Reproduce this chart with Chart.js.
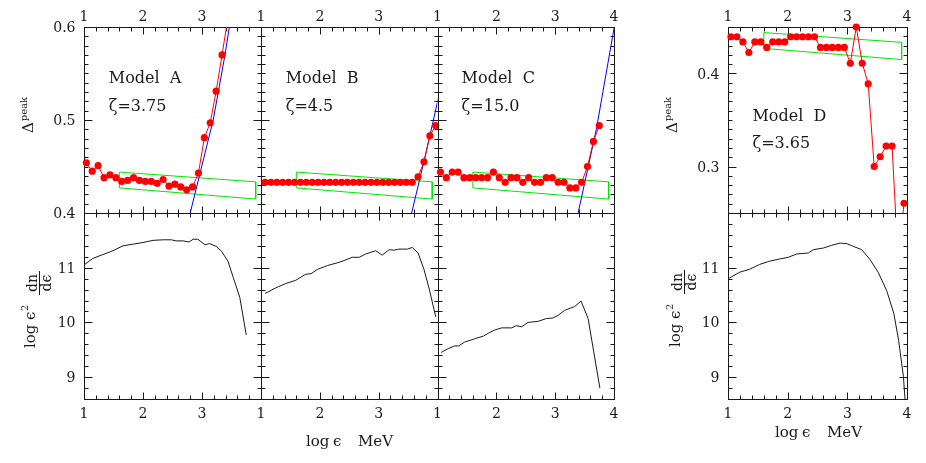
<!DOCTYPE html>
<html>
<head>
<meta charset="utf-8">
<title>Delta peak and spectra, Models A-D</title>
<script src="https://cdn.jsdelivr.net/npm/chart.js@4.4.1/dist/chart.umd.min.js"></script>
<style>
  html, body { margin: 0; padding: 0; background: #fff; }
  #wrap { position: relative; width: 926px; height: 463px; overflow: hidden; }
  #wrap canvas { position: absolute; left: 0; top: 0; pointer-events: none; }
</style>
</head>
<body>
<div id="wrap">
  <canvas id="topA" width="926" height="463"></canvas>
  <canvas id="topB" width="926" height="463"></canvas>
  <canvas id="topC" width="926" height="463"></canvas>
  <canvas id="topD" width="926" height="463"></canvas>
  <canvas id="botA" width="926" height="463"></canvas>
  <canvas id="botB" width="926" height="463"></canvas>
  <canvas id="botC" width="926" height="463"></canvas>
  <canvas id="botD" width="926" height="463"></canvas>
</div>
<script>
// ── Data ─────────────────────────────────────────────────────────────────────
// Model A, Delta^peak vs log eps
const logE_A = [1.04,1.14,1.24,1.34,1.44,1.54,1.64,1.74,1.84,1.94,2.04,2.14,2.24,2.34,2.44,2.54,2.64,2.74,2.84,2.94,3.04,3.14,3.24,3.34,3.44];
const peak_A = [0.454,0.445,0.451,0.438,0.441,0.438,0.434,0.435,0.438,0.435,0.434,0.434,0.432,0.436,0.429,0.431,0.428,0.425,0.428,0.443,0.481,0.497,0.531,0.570,0.610];
const fitX_A = [2.80,2.96,3.19,3.39,3.48];
const fitY_A = [0.400,0.441,0.500,0.570,0.607];

// Model B
const logE_B = [1.07,1.17,1.27,1.37,1.47,1.57,1.67,1.77,1.87,1.97,2.07,2.17,2.27,2.37,2.47,2.57,2.67,2.77,2.87,2.97,3.07,3.17,3.27,3.37,3.47,3.57,3.67,3.77,3.87,3.97];
const peak_B = [0.433,0.433,0.433,0.433,0.433,0.433,0.433,0.433,0.433,0.433,0.433,0.433,0.433,0.433,0.433,0.433,0.433,0.433,0.433,0.433,0.433,0.433,0.433,0.433,0.433,0.433,0.439,0.455,0.483,0.494];
const fitX_B = [3.56,3.78,4.02];
const fitY_B = [0.400,0.458,0.525];

// Model C
const logE_C = [1.05,1.15,1.25,1.35,1.45,1.55,1.65,1.75,1.85,1.95,2.05,2.15,2.25,2.35,2.45,2.55,2.65,2.75,2.85,2.95,3.05,3.15,3.25,3.35,3.45,3.55,3.65,3.75];
const peak_C = [0.444,0.438,0.444,0.444,0.438,0.438,0.438,0.438,0.438,0.444,0.438,0.433,0.438,0.438,0.433,0.438,0.433,0.433,0.438,0.438,0.433,0.433,0.427,0.427,0.433,0.450,0.477,0.494];
const fitX_C = [3.39,3.70,4.01];
const fitY_C = [0.400,0.490,0.602];

// Model D
const logE_D = [1.05,1.15,1.25,1.35,1.45,1.55,1.65,1.75,1.85,1.95,2.05,2.15,2.25,2.35,2.45,2.55,2.65,2.75,2.85,2.95,3.05,3.15,3.25,3.35,3.45,3.55,3.65,3.75,3.85,3.95];
const peak_D = [0.4395,0.4395,0.434,0.4226,0.434,0.434,0.428,0.434,0.434,0.434,0.4395,0.4395,0.4395,0.4395,0.4395,0.428,0.428,0.428,0.428,0.428,0.411,0.450,0.411,0.389,0.300,0.3105,0.322,0.322,0.200,0.2605];

// green band (same in all four models)
const bandX = [1.60,3.91,3.91,1.60,1.60];
const bandY = [0.444,0.4335,0.415,0.427,0.444];

// spectra, log eps^2 dn/deps
const specX_A = [1.00,1.15,1.32,1.49,1.66,1.83,2.00,2.17,2.34,2.48,2.56,2.68,2.78,2.85,2.93,3.05,3.13,3.24,3.33,3.44,3.53,3.64,3.75];
const spec_A  = [11.05,11.17,11.24,11.31,11.40,11.43,11.46,11.50,11.51,11.51,11.49,11.49,11.47,11.52,11.52,11.42,11.44,11.39,11.30,11.12,10.82,10.46,9.77];
const specX_B = [1.07,1.25,1.42,1.59,1.76,1.85,1.96,2.13,2.30,2.41,2.55,2.67,2.78,2.95,3.06,3.18,3.26,3.34,3.49,3.57,3.67,3.77,3.86,3.97];
const spec_B  = [10.53,10.63,10.71,10.77,10.88,10.89,10.97,11.04,11.09,11.13,11.19,11.19,11.25,11.31,11.23,11.33,11.32,11.34,11.34,11.37,11.27,10.97,10.61,10.10];
const specX_C = [1.06,1.18,1.29,1.36,1.46,1.63,1.78,1.86,1.97,2.09,2.26,2.34,2.43,2.54,2.71,2.85,2.96,3.05,3.16,3.33,3.44,3.56,3.76];
const spec_C  = [9.45,9.52,9.57,9.57,9.64,9.70,9.75,9.80,9.86,9.90,9.90,9.94,9.92,10.00,10.02,10.07,10.08,10.13,10.22,10.29,10.39,10.07,8.80];
const specX_D = [1.02,1.20,1.36,1.53,1.70,1.87,2.01,2.15,2.35,2.43,2.60,2.74,2.88,2.99,3.10,3.24,3.38,3.52,3.66,3.78,3.86,3.94,3.97];
const spec_D  = [10.81,10.92,10.97,11.06,11.12,11.16,11.19,11.25,11.27,11.33,11.36,11.41,11.45,11.44,11.39,11.33,11.15,10.91,10.58,10.16,9.67,9.01,8.55];

// tick labels
const eTicks3 = [1,2,3];
const eTicks4 = [1,2,3,4];
const peakTicksA = [0.6,0.5,0.4];
const peakTicksD = [0.4,0.3];
const specTicks = [11,10,9];

// ── Look ─────────────────────────────────────────────────────────────────────
const INK = "#1a1a1a";
const RED = "#ff0000", BLUE = "#0000ff", GREEN = "#00e600";
const SERIF = '"DejaVu Serif", serif';
const W = 926, H = 463;
const COLS = { A: [84, 261], B: [261, 437.5], C: [437.5, 614], D: [728, 907] };
const ROWS = { top: [27, 213], bottom: [213, 399] };

const pts = (xs, ys) => xs.map((v, i) => ({ x: v, y: ys[i] }));

function ticksBetween(min, max, step) {
  const out = [];
  const n0 = Math.ceil(min / step - 1e-6), n1 = Math.floor(max / step + 1e-6);
  for (let k = n0; k <= n1; k++) out.push(+(k * step).toFixed(6));
  return out;
}
const isMajor = (v, major) => Math.abs(v / major - Math.round(v / major)) < 1e-6;

// frame, inward ticks, labels and notes, all from the chart's own scales
function decoPlugin(deco) {
  return {
    id: "deco",
    beforeDatasetsDraw(chart) {
      const { ctx, chartArea: a, scales: { x, y } } = chart;
      const L = Math.round(a.left) + 0.5, R = Math.round(a.right) + 0.5;
      const T = Math.round(a.top) + 0.5, B = Math.round(a.bottom) + 0.5;
      ctx.save();
      ctx.strokeStyle = INK;
      ctx.lineWidth = 1;
      ctx.strokeRect(L, T, R - L, B - T);
      ctx.beginPath();
      ticksBetween(x.min, x.max, 0.2).forEach(v => {
        const px = Math.round(x.getPixelForValue(v)) + 0.5;
        const len = isMajor(v, 1) ? 7 : 4;
        ctx.moveTo(px, T); ctx.lineTo(px, T + len);
        ctx.moveTo(px, B); ctx.lineTo(px, B - len);
      });
      ticksBetween(y.min, y.max, deco.yMinor).forEach(v => {
        const py = Math.round(y.getPixelForValue(v)) + 0.5;
        const len = isMajor(v, deco.yMajor) ? 8 : 4;
        ctx.moveTo(L, py); ctx.lineTo(L + len, py);
        ctx.moveTo(R, py); ctx.lineTo(R - len, py);
      });
      ctx.stroke();

      ctx.fillStyle = INK;
      ctx.font = "14px " + SERIF;
      ctx.textAlign = "center";
      ctx.textBaseline = "alphabetic";
      (deco.xTicks || []).forEach(v => {
        const px = x.getPixelForValue(v);
        ctx.fillText(String(v), px, deco.xSide === "top" ? T - 7 : B + 18);
      });
      ctx.textAlign = "right";
      (deco.yTicks || []).forEach(v => {
        ctx.fillText(String(v), L - 9, y.getPixelForValue(v) + 5);
      });

      ctx.textAlign = "left";
      ctx.font = "16px " + SERIF;
      (deco.notes || []).forEach(n => {
        ctx.fillText(n.text, x.getPixelForValue(n.x), y.getPixelForValue(n.y));
      });
      if (deco.extra) deco.extra(ctx);
      ctx.restore();
    }
  };
}

// ── Axis titles ──────────────────────────────────────────────────────────────
function drawPeakTitle(ctx, baseX, startY) {
  ctx.save();
  ctx.translate(baseX, startY);
  ctx.rotate(-Math.PI / 2);
  ctx.textAlign = "left";
  ctx.font = "15px " + SERIF;
  ctx.fillText("Δ", 0, 0);
  const w = ctx.measureText("Δ").width;
  ctx.font = "10px " + SERIF;
  ctx.fillText("peak", w + 1, -6);
  ctx.restore();
}

function drawSpecTitle(ctx, baseX, startY) {
  ctx.save();
  ctx.translate(baseX, startY);
  ctx.rotate(-Math.PI / 2);
  ctx.textAlign = "left";
  ctx.font = "15px " + SERIF;
  ctx.fillText("log", 0, 0);
  ctx.fillText("ϵ", 28, 0);
  ctx.font = "10px " + SERIF;
  ctx.fillText("2", 37, -7);
  ctx.font = "14px " + SERIF;
  ctx.textAlign = "center";
  const fc = 65;
  ctx.fillText("dn", fc, 2);
  ctx.fillText("dϵ", fc, 16);
  ctx.strokeStyle = INK;
  ctx.lineWidth = 1;
  ctx.beginPath();
  ctx.moveTo(fc - 12, 4.5); ctx.lineTo(fc + 12, 4.5);
  ctx.stroke();
  ctx.restore();
}

function drawEnergyTitle(ctx, left, base) {
  ctx.textAlign = "left";
  ctx.font = "15px " + SERIF;
  ctx.fillText("log", left, base);
  ctx.fillText("ϵ", left + 27, base);
  ctx.fillText("MeV", left + 52, base);
}

// ── Datasets ─────────────────────────────────────────────────────────────────
function peakSets(xs, ys, fitX, fitY, yMin, yMax) {
  const data = pts(xs, ys);
  const sets = [{
    data,
    showLine: false,
    clip: false,
    backgroundColor: RED,
    borderWidth: 0,
    pointRadius: c => (c.raw && c.raw.y >= yMin - 0.002 && c.raw.y <= yMax + 0.002) ? 3.6 : 0,
  }, {
    data,
    showLine: true,
    borderColor: RED,
    borderWidth: 1,
    pointRadius: 0,
  }];
  if (fitX) sets.push({ data: pts(fitX, fitY), showLine: true, borderColor: BLUE, borderWidth: 1, pointRadius: 0 });
  sets.push({ data: pts(bandX, bandY), showLine: true, borderColor: GREEN, borderWidth: 1, pointRadius: 0 });
  return sets;
}

function specSets(xs, ys) {
  return [{ data: pts(xs, ys), showLine: true, borderColor: INK, borderWidth: 1, pointRadius: 0 }];
}

function makePanel(id, col, row, yMin, yMax, datasets, deco) {
  const [l, r] = COLS[col], [t, b] = ROWS[row];
  return new Chart(document.getElementById(id), {
    type: "scatter",
    data: { datasets },
    options: {
      responsive: false,
      animation: false,
      events: [],
      devicePixelRatio: 1,
      layout: { padding: { left: l, right: W - r, top: t, bottom: H - b } },
      elements: { line: { tension: 0, fill: false } },
      scales: {
        x: { type: "linear", min: 1, max: 4, display: false },
        y: { type: "linear", min: yMin, max: yMax, display: false },
      },
      plugins: { legend: { display: false }, tooltip: { enabled: false } },
    },
    plugins: [decoPlugin(deco)],
  });
}

// ── Top row: Delta^peak ──────────────────────────────────────────────────────
makePanel("topA", "A", "top", 0.4, 0.6, peakSets(logE_A, peak_A, fitX_A, fitY_A, 0.4, 0.6), {
  yMinor: 0.01, yMajor: 0.1, xSide: "top", xTicks: eTicks3, yTicks: peakTicksA,
  notes: [{ text: "Model  A", x: 1.42, y: 0.540 }, { text: "ζ=3.75", x: 1.42, y: 0.510 }],
  extra: ctx => drawPeakTitle(ctx, 33, 133),
});
makePanel("topB", "B", "top", 0.4, 0.6, peakSets(logE_B, peak_B, fitX_B, fitY_B, 0.4, 0.6), {
  yMinor: 0.01, yMajor: 0.1, xSide: "top", xTicks: eTicks3,
  notes: [{ text: "Model  B", x: 1.42, y: 0.540 }, { text: "ζ=4.5", x: 1.42, y: 0.510 }],
});
makePanel("topC", "C", "top", 0.4, 0.6, peakSets(logE_C, peak_C, fitX_C, fitY_C, 0.4, 0.6), {
  yMinor: 0.01, yMajor: 0.1, xSide: "top", xTicks: eTicks4,
  notes: [{ text: "Model  C", x: 1.41, y: 0.540 }, { text: "ζ=15.0", x: 1.41, y: 0.510 }],
});
makePanel("topD", "D", "top", 0.25, 0.45, peakSets(logE_D, peak_D, null, null, 0.25, 0.45), {
  yMinor: 0.01, yMajor: 0.1, xSide: "top", xTicks: eTicks4, yTicks: peakTicksD,
  notes: [{ text: "Model  D", x: 1.41, y: 0.349 }, { text: "ζ=3.65", x: 1.41, y: 0.320 }],
  extra: ctx => drawPeakTitle(ctx, 677, 133),
});

// ── Bottom row: spectra ──────────────────────────────────────────────────────
makePanel("botA", "A", "bottom", 8.6, 12, specSets(specX_A, spec_A), {
  yMinor: 0.2, yMajor: 1, xSide: "bottom", xTicks: eTicks3, yTicks: specTicks,
  extra: ctx => { drawSpecTitle(ctx, 35, 348); drawEnergyTitle(ctx, 306, 446); },
});
makePanel("botB", "B", "bottom", 8.6, 12, specSets(specX_B, spec_B), {
  yMinor: 0.2, yMajor: 1, xSide: "bottom", xTicks: eTicks3,
});
makePanel("botC", "C", "bottom", 8.6, 12, specSets(specX_C, spec_C), {
  yMinor: 0.2, yMajor: 1, xSide: "bottom", xTicks: eTicks4,
});
makePanel("botD", "D", "bottom", 8.6, 12, specSets(specX_D, spec_D), {
  yMinor: 0.2, yMajor: 1, xSide: "bottom", xTicks: eTicks4, yTicks: specTicks,
  extra: ctx => { drawSpecTitle(ctx, 680, 347); drawEnergyTitle(ctx, 775, 437); },
});
</script>
</body>
</html>
